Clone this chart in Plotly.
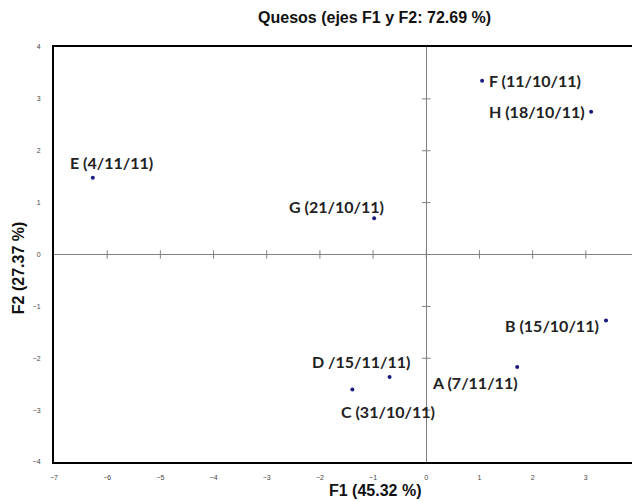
import plotly.graph_objects as go

names = ["A (7/11/11)", "B (15/10/11)", "C (31/10/11)", "D /15/11/11)",
         "E (4/11/11)", "F (11/10/11)", "G (21/10/11)", "H (18/10/11)"]
f1 = [1.71, 3.38, -1.39, -0.69, -6.27, 1.05, -0.98, 3.10]
f2 = [-2.17, -1.27, -2.60, -2.36, 1.48, 3.35, 0.70, 2.75]

title_text = "Quesos (ejes F1 y F2: 72.69 %)"
x_title = "F1 (45.32 %)"
y_title = "F2 (27.37 %)"

# label placement (anchor, xshift, yshift) per point
label_style = {
    "A (7/11/11)": ("right", 3, -15),
    "B (15/10/11)": ("right", -5, -5),
    "C (31/10/11)": ("left", -13, -22),
    "D /15/11/11)": ("right", 23, 15),
    "E (4/11/11)": ("center", 19, 15),
    "F (11/10/11)": ("left", 5, 0),
    "G (21/10/11)": ("right", 12, 12),
    "H (18/10/11)": ("right", -4, 0),
}

xticks = list(range(-7, 5))
yticks = list(range(-4, 5))

fig = go.Figure()

# small tick marks on the zero lines
fig.add_trace(go.Scatter(x=[t for t in xticks if t not in (-7, 4)], y=[0] * 10,
                         mode="markers", marker=dict(symbol="line-ns", size=6,
                         line=dict(color="#808080", width=1)),
                         hoverinfo="skip", showlegend=False))
fig.add_trace(go.Scatter(x=[0] * 7, y=[t for t in yticks if t not in (-4, 4)],
                         mode="markers", marker=dict(symbol="line-ew", size=6,
                         line=dict(color="#808080", width=1)),
                         hoverinfo="skip", showlegend=False))

fig.add_trace(go.Scatter(x=f1, y=f2, mode="markers",
                         marker=dict(color="#1a1a80", size=4),
                         showlegend=False))

for n, x, y in zip(names, f1, f2):
    anc, xs, ys = label_style[n]
    fig.add_annotation(x=x, y=y, text="<b>" + n + "</b>", showarrow=False, xanchor=anc,
                       yanchor="middle", xshift=xs, yshift=ys,
                       font=dict(family="Lato", size=16, color="#222"))

# axis titles (offset from plot centre as in the reference)
fig.add_annotation(xref="paper", yref="paper", x=0.549, y=0, yshift=-28,
                   xanchor="center", yanchor="middle", showarrow=False,
                   text="<b>" + x_title + "</b>",
                   font=dict(family="Liberation Sans", size=16, color="#111"))
fig.add_annotation(xref="paper", yref="paper", x=0, y=0.467, xshift=-36,
                   xanchor="center", yanchor="middle", showarrow=False,
                   textangle=-90, text="<b>" + y_title + "</b>",
                   font=dict(family="Liberation Sans", size=16, color="#111"))

fig.update_layout(
    width=632, height=494,
    margin=dict(l=46, r=1, t=39, b=40),
    paper_bgcolor="white", plot_bgcolor="white",
    title=dict(text="<b>" + title_text + "</b>", x=0.58, xanchor="center",
               y=0.98, yanchor="middle", automargin=False,
               font=dict(family="Liberation Sans", size=16, color="#111")),
    xaxis=dict(range=[-7, 4], tickvals=xticks, showgrid=False, zeroline=True,
               zerolinecolor="#808080", zerolinewidth=1, automargin=False,
               showline=True, linecolor="black", linewidth=2, mirror=True,
               ticks="", ticklen=0, ticklabelstandoff=8,
               tickfont=dict(family="Liberation Sans", size=7, color="#444")),
    yaxis=dict(range=[-4, 4], tickvals=yticks, showgrid=False, zeroline=True,
               zerolinecolor="#808080", zerolinewidth=1, automargin=False,
               showline=True, linecolor="black", linewidth=2, mirror=True,
               ticks="", ticklen=0, ticklabelstandoff=10,
               tickfont=dict(family="Liberation Sans", size=7, color="#444")),
)

fig.write_html("out.html")
